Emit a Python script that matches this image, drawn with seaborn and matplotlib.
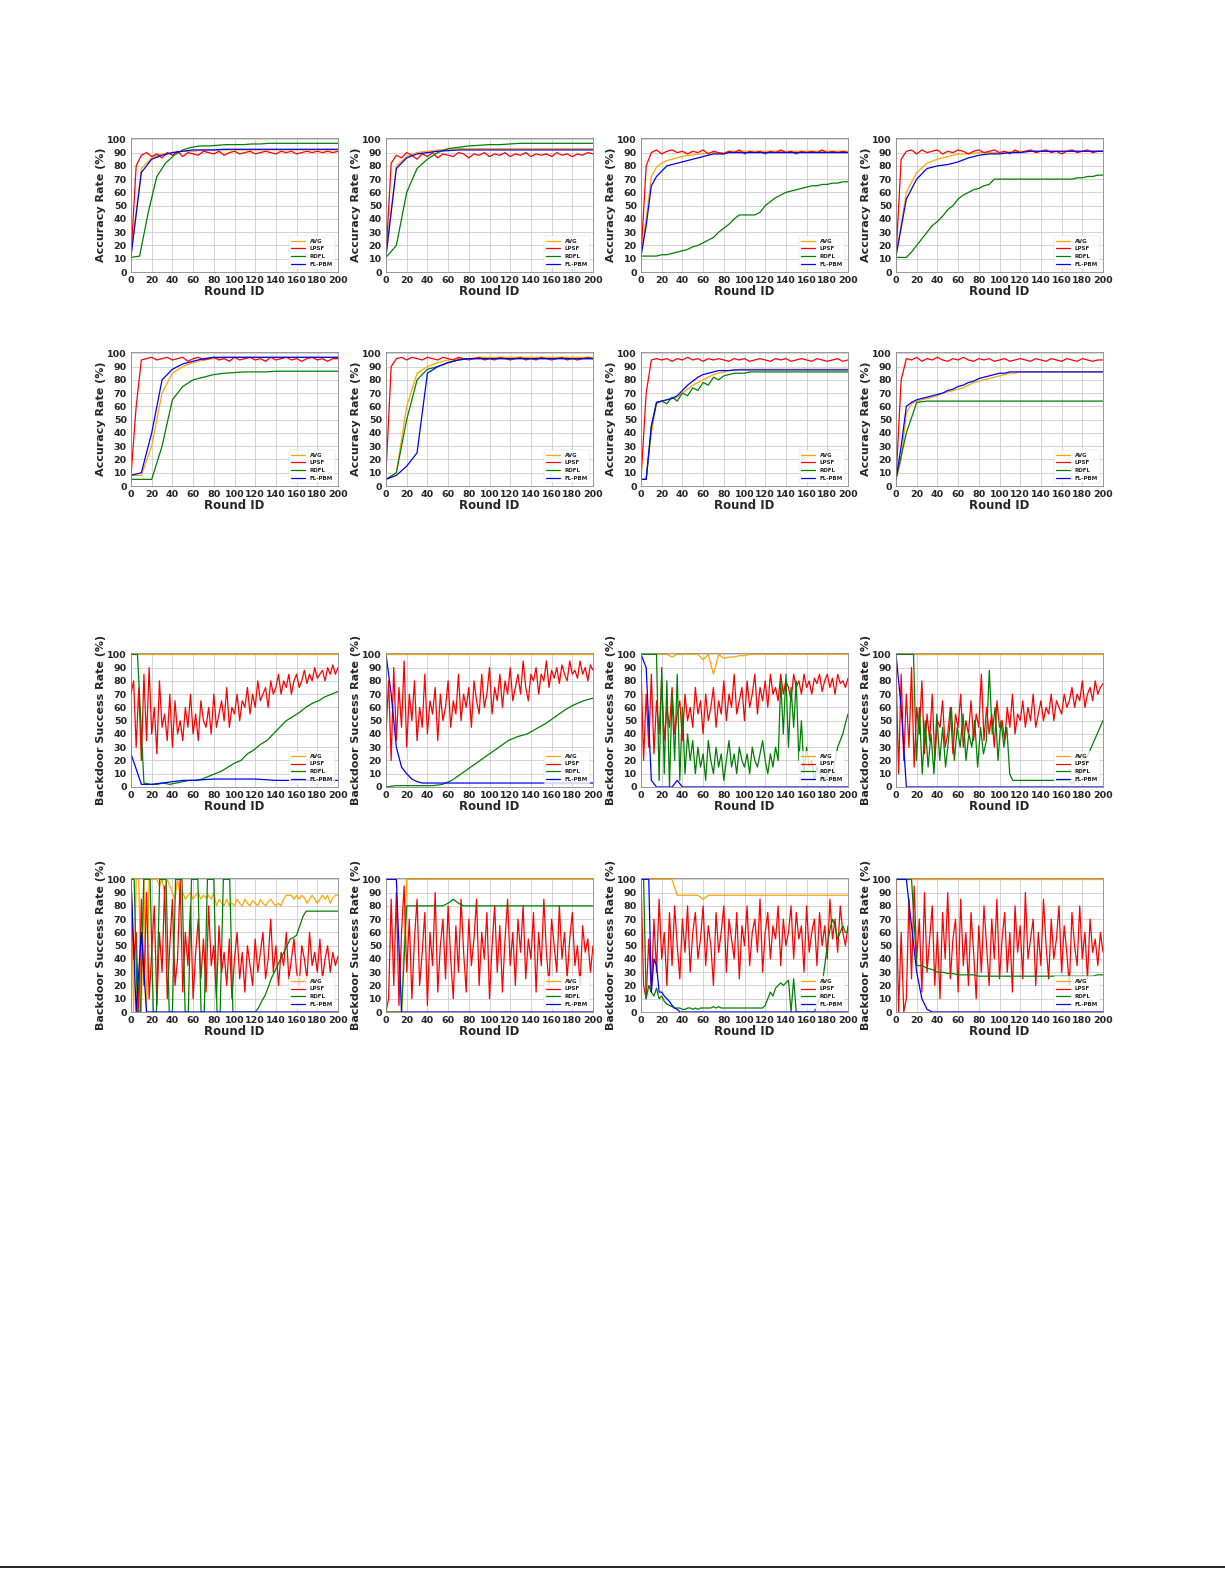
import numpy as np
import pandas as pd
import matplotlib
matplotlib.use("Agg")
import matplotlib.pyplot as plt
import seaborn as sns
from matplotlib.lines import Line2D

sns.set_style("white")
plt.rcParams['font.family'] = ['DejaVu Sans']

methods = ["AVG", "LPSF", "RDFL", "FL-PBM"]
colors = {"AVG": "#ffa500", "LPSF": "#ff0000", "RDFL": "#008000", "FL-PBM": "#0000ff"}

# values; each list spans rounds 0..200 evenly
# ---- accuracy, row 1
a1_avg = [12, 78, 86, 89, 90, 91, 91, 92, 92, 92, 92, 92, 92, 92, 92, 92, 92, 92, 92, 92, 92]
a1_lpsf = [12, 80, 88, 90, 87, 89, 86, 90, 88, 91, 87, 90, 89, 88, 91, 90, 89, 91, 88, 90, 91, 89, 90, 91, 89, 90, 91,
           90, 89, 91, 90, 91, 89, 90, 91, 90, 91, 90, 91, 90, 91]
a1_rdfl = [11, 12, 45, 72, 82, 88, 92, 94, 95, 95, 95.5, 96, 96, 96, 96.5, 96.5, 97, 97, 97, 97, 97, 97, 97, 97, 97]
a1_pbm = [12, 75, 85, 88, 90, 91, 92, 92, 92, 92.5, 92.5, 92.5, 92.5, 92.5, 92.5, 92.5, 92.5, 92.5, 92.5, 92.5, 92.5]

a2_avg = [12, 80, 87, 90, 91, 92, 92.5, 93, 93, 93, 93, 93, 93, 93, 93, 93, 93, 93, 93, 93, 93]
a2_lpsf = [12, 82, 88, 86, 90, 88, 85, 89, 87, 90, 86, 89, 88, 87, 90, 89, 86, 89, 88, 90, 87, 89, 88, 90, 87, 89, 88,
           90, 87, 89, 88, 89, 87, 90, 88, 89, 87, 89, 88, 90, 89]
a2_rdfl = [11, 20, 60, 78, 85, 90, 93, 94, 95, 95.5, 96, 96, 96.5, 97, 97, 97, 97, 97, 97, 97, 97]
a2_pbm = [12, 78, 86, 89, 90, 91, 91.5, 92, 92, 92, 92, 92, 92, 92, 92, 92, 92, 92, 92, 92, 92]

a3_avg = [12, 40, 72, 79, 82, 84, 85, 86, 87, 88, 88, 89, 89, 90, 90, 90, 90, 91, 91, 91, 91, 91, 91, 91, 91, 91, 91,
          91, 91, 91, 91, 91, 91, 91, 91, 91, 91, 91, 91, 91, 91]
a3_lpsf = [12, 80, 90, 92, 89, 91, 92, 90, 91, 89, 91, 90, 92, 89, 91, 90, 89, 91, 90, 92, 89, 91, 90, 91, 89, 91, 90,
           92, 90, 91, 89, 91, 90, 91, 90, 92, 90, 91, 90, 91, 90]
a3_rdfl = [12, 12, 12, 12, 13, 13, 14, 15, 16, 17, 19, 20, 22, 24, 26, 30, 33, 36, 40, 43, 43, 43, 43, 45, 50, 53, 56,
           58, 60, 61, 62, 63, 64, 65, 65, 66, 66, 67, 67, 68, 68]
a3_pbm = [12, 35, 65, 72, 76, 80, 81, 82, 83, 84, 85, 86, 87, 88, 89, 89, 89, 90, 90, 90, 90, 90, 90, 90, 90, 90, 90,
          90, 90, 90, 90, 90, 90, 90, 90, 90, 90, 90, 90, 90, 90]

a4_avg = [12, 60, 75, 82, 85, 87, 89, 89, 90, 90, 90, 90.5, 91, 91, 91, 91, 91, 91, 91, 91, 91]
a4_lpsf = [12, 85, 91, 92, 89, 92, 90, 91, 92, 89, 91, 90, 92, 91, 89, 91, 92, 90, 91, 92, 90, 91, 89, 92, 90, 91, 92,
           90, 91, 92, 90, 91, 89, 91, 92, 90, 91, 92, 90, 91, 91]
a4_rdfl = [11, 11, 11, 15, 20, 25, 30, 35, 38, 42, 47, 50, 55, 58, 60, 62, 63, 65, 66, 70, 70, 70, 70, 70, 70, 70, 70,
           70, 70, 70, 70, 70, 70, 70, 70, 71, 71, 72, 72, 73, 73]
a4_pbm = [12, 55, 70, 78, 80, 81, 83, 86, 88, 89, 89, 90, 90, 91, 91, 91, 91, 91, 91, 91, 91]

# ---- accuracy, row 2
b1_avg = [8, 8, 30, 70, 85, 90, 93, 95, 96, 97, 97, 97, 97, 97, 97, 97, 97, 97, 97, 97, 97]
b1_lpsf = [8, 60, 95, 96, 97, 95, 96, 97, 95, 96, 97, 94, 96, 97, 95, 96, 97, 95, 96, 94, 97, 95, 96, 97, 95, 96, 94,
           97, 95, 96, 97, 95, 96, 94, 96, 97, 95, 96, 94, 96, 96]
b1_rdfl = [5, 5, 5, 30, 65, 75, 80, 82, 84, 85, 85.5, 86, 86, 86, 86.5, 86.5, 86.5, 86.5, 86.5, 86.5, 86.5]
b1_pbm = [8, 10, 40, 80, 88, 92, 94, 96, 97, 97, 97, 97, 97, 97, 97, 97, 97, 97, 97, 97, 97]

b2_avg = [5, 10, 60, 85, 90, 93, 95, 96, 96, 97, 97, 97, 97, 97, 97, 97, 97, 97, 97, 97, 97]
b2_lpsf = [10, 90, 96, 97, 95, 97, 96, 95, 97, 96, 95, 97, 96, 95, 97, 96, 95, 96, 97, 95, 96, 95, 97, 96, 95, 96, 97,
           95, 96, 95, 97, 96, 95, 96, 97, 95, 96, 95, 96, 97, 96]
b2_rdfl = [5, 10, 50, 80, 88, 90, 93, 95, 96, 96, 96, 96, 96, 96, 96, 96, 96, 96, 96, 96, 96]
b2_pbm = [5, 8, 15, 25, 85, 90, 93, 95, 96, 96, 96, 96, 96, 96, 96, 96, 96, 96, 96, 96, 96]

b3_avg = [5, 5, 40, 62, 64, 65, 66, 67, 70, 73, 76, 78, 80, 82, 84, 85, 86, 87, 87, 88, 88, 88, 88, 88, 88, 88, 88,
          88, 88, 88, 88, 88, 88, 88, 88, 88, 88, 88, 88, 88, 88]
b3_lpsf = [5, 70, 95, 96, 95, 96, 94, 96, 95, 97, 95, 96, 94, 96, 95, 96, 95, 94, 96, 95, 96, 94, 95, 96, 95, 94, 96,
           95, 96, 94, 95, 96, 95, 94, 96, 95, 94, 95, 96, 94, 95]
b3_rdfl = [5, 5, 45, 63, 64, 62, 67, 64, 70, 68, 74, 72, 78, 76, 82, 80, 83, 84, 85, 85, 85, 86, 86, 86, 86, 86, 86,
           86, 86, 86, 86, 86, 86, 86, 86, 86, 86, 86, 86, 86, 86]
b3_pbm = [5, 5, 45, 63, 64, 65, 66, 68, 72, 76, 79, 82, 84, 85, 86, 87, 87, 87, 87.5, 87.5, 87.5, 87.5, 87.5, 87.5,
          87.5, 87.5, 87.5, 87.5, 87.5, 87.5, 87.5, 87.5, 87.5, 87.5, 87.5, 87.5, 87.5, 87.5, 87.5, 87.5, 87.5]

b4_avg = [5, 20, 55, 62, 64, 65, 66, 67, 68, 70, 71, 72, 73, 74, 76, 78, 79, 80, 81, 82, 83, 84, 85, 85, 86, 86, 86,
          86, 86, 86, 86, 86, 86, 86, 86, 86, 86, 86, 86, 86, 86]
b4_lpsf = [5, 80, 96, 95, 97, 94, 96, 95, 97, 95, 94, 96, 95, 97, 95, 94, 96, 95, 96, 94, 95, 96, 94, 95, 96, 95, 94,
           96, 95, 94, 96, 95, 94, 96, 95, 94, 96, 95, 94, 95, 95]
b4_rdfl = [5, 40, 63, 64, 64, 64, 64, 64, 64, 64, 64, 64, 64, 64, 64, 64, 64, 64, 64, 64, 64]
b4_pbm = [5, 30, 60, 63, 65, 66, 67, 68, 69, 70, 72, 73, 75, 76, 78, 79, 81, 82, 83, 84, 85, 85, 86, 86, 86, 86, 86,
          86, 86, 86, 86, 86, 86, 86, 86, 86, 86, 86, 86, 86, 86]

# ---- backdoor success, row 3
c1_avg = [100, 100, 100, 100, 100, 100, 100, 100, 100, 100, 100, 100, 100, 100, 100, 100, 100, 100, 100, 100, 100]
c1_lpsf = [70, 80, 30, 75, 20, 85, 35, 90, 40, 60, 25, 80, 45, 55, 35, 70, 30, 65, 40, 50, 35, 60, 45, 70, 40, 55, 35,
           65, 50, 45, 60, 40, 70, 45, 55, 65, 50, 75, 45, 60, 55, 70, 50, 65, 60, 75, 55, 70, 60, 80, 65, 70, 75, 60,
           80, 70, 75, 85, 70, 80, 75, 85, 70, 80, 85, 75, 80, 88, 78, 85, 80, 90, 82, 85, 88, 80, 90, 85, 92, 85, 90]
c1_rdfl = [100, 100, 3, 2, 2, 3, 2, 3, 4, 5, 5, 6, 8, 10, 12, 15, 18, 20, 25, 28, 32, 35, 40, 45, 50, 53, 56, 60, 63,
           65, 68, 70, 72]
c1_pbm = [25, 2, 2, 3, 4, 5, 5, 5.5, 6, 6, 6, 6, 6, 5.5, 5, 5, 5, 5, 5, 5, 5]

c2_avg = [100, 100, 100, 100, 100, 100, 100, 100, 100, 100, 100, 100, 100, 100, 100, 100, 100, 100, 100, 100, 100]
c2_lpsf = [40, 80, 20, 90, 35, 75, 45, 95, 30, 70, 50, 80, 35, 60, 45, 85, 40, 65, 55, 75, 35, 70, 50, 60, 80, 45, 65,
           55, 85, 50, 70, 60, 75, 45, 80, 65, 55, 85, 60, 70, 90, 55, 75, 65, 85, 60, 80, 70, 90, 65, 75, 85, 70, 95,
           75, 65, 85, 80, 90, 70, 85, 80, 95, 75, 88, 82, 90, 78, 92, 85, 80, 95, 85, 88, 82, 95, 85, 90, 80, 92, 88]
c2_rdfl = [0, 1, 1, 1, 1, 1, 2, 5, 10, 15, 20, 25, 30, 35, 38, 40, 44, 48, 53, 58, 62, 65, 67]
c2_pbm = [100, 70, 30, 15, 10, 6, 4, 3, 3, 3, 3, 3, 3, 3, 3, 3, 3, 3, 3, 3, 3, 3, 3, 3, 3, 3, 3, 3, 3, 3, 3, 3, 3, 3,
          3, 3, 3, 3, 3, 3, 3]

c3_avg = [100, 100, 100, 100, 100, 100, 98, 100, 100, 100, 100, 100, 96, 100, 85, 100, 97, 98, 98, 99, 99, 100, 100,
          100, 100, 100, 100, 100, 100, 100, 100, 100, 100, 100, 100, 100, 100, 100, 100, 100, 100]
c3_lpsf = [90, 20, 70, 30, 85, 25, 65, 40, 80, 35, 60, 45, 75, 40, 55, 65, 35, 70, 50, 60, 45, 75, 55, 65, 40, 70, 50,
           60, 75, 45, 65, 55, 80, 50, 70, 60, 85, 55, 65, 75, 50, 80, 60, 70, 85, 55, 75, 65, 80, 60, 85, 70, 75, 65,
           85, 70, 80, 75, 65, 85, 75, 80, 70, 85, 75, 80, 70, 82, 78, 85, 72, 80, 85, 75, 82, 70, 85, 78, 80, 75, 82]
c3_rdfl = [100, 100, 100, 100, 100, 100, 100, 5, 90, 10, 80, 0, 70, 20, 85, 5, 60, 10, 40, 20, 35, 10, 30, 15, 25, 5,
           35, 20, 10, 30, 15, 25, 5, 20, 35, 15, 25, 10, 30, 20, 15, 25, 10, 30, 20, 15, 25, 35, 20, 10, 25, 15, 30,
           20, 80, 40, 85, 30, 75, 45, 80, 20, 50, 10, 30, 15, 20, 5, 15, 10, 8, 5, 10, 5, 10, 20, 30, 35, 40, 48, 55]
c3_pbm = [100, 90, 5, 0, 0, 0, 0, 5, 0, 0, 0, 0, 0, 0, 0, 0, 0, 0, 0, 0, 0, 0, 0, 0, 0, 0, 0, 0, 0, 0, 0, 0, 0, 0, 0,
          0, 0, 0, 0, 0, 0]

c4_avg = [100, 100, 100, 100, 100, 100, 100, 100, 100, 100, 100, 100, 100, 100, 100, 100, 100, 100, 100, 100, 100]
c4_lpsf = [90, 10, 85, 20, 70, 30, 90, 15, 60, 40, 80, 25, 55, 35, 70, 20, 50, 45, 65, 30, 40, 60, 25, 55, 45, 70, 30,
           50, 40, 65, 35, 55, 45, 85, 35, 60, 40, 55, 30, 65, 45, 50, 35, 60, 45, 70, 40, 55, 50, 65, 45, 60, 50, 70,
           45, 55, 65, 50, 60, 55, 70, 50, 65, 60, 55, 70, 60, 65, 75, 60, 70, 65, 80, 60, 70, 75, 65, 80, 70, 75, 78]
c4_rdfl = [100, 100, 100, 100, 100, 100, 100, 20, 60, 10, 50, 15, 40, 10, 55, 20, 45, 15, 35, 60, 20, 45, 30, 55, 20,
           40, 30, 50, 15, 45, 25, 35, 88, 40, 60, 20, 50, 30, 45, 10, 5, 5, 5, 5, 5, 5, 5, 5, 5, 5, 5, 5, 5, 5, 5, 5,
           5, 5, 5, 5, 3, 3, 5, 10, 15, 20, 25, 30, 35, 40, 45, 50]
c4_pbm = [100, 60, 0, 0, 0, 0, 0, 0, 0, 0, 0, 0, 0, 0, 0, 0, 0, 0, 0, 0, 0, 0, 0, 0, 0, 0, 0, 0, 0, 0, 0, 0, 0, 0, 0,
          0, 0, 0, 0, 0, 0]

# ---- backdoor success, row 4
d1_avg = [100, 0, 100, 100, 0, 100, 0, 100, 100, 100, 100, 95, 100, 90, 100, 95, 90, 85, 100, 88, 90, 85, 88, 90, 85,
          88, 90, 85, 88, 86, 88, 85, 90, 80, 85, 82, 80, 85, 80, 82, 80, 85, 82, 80, 85, 82, 80, 84, 82, 80, 85, 82,
          80, 83, 85, 82, 80, 82, 80, 85, 88, 88, 88, 85, 88, 85, 88, 86, 82, 85, 88, 85, 82, 85, 88, 85, 88, 82, 86,
          88, 88]
d1_lpsf = [100, 40, 60, 0, 85, 20, 90, 10, 45, 80, 5, 60, 30, 95, 10, 50, 85, 20, 40, 100, 15, 60, 35, 80, 10, 45, 70,
           25, 55, 15, 80, 35, 50, 10, 65, 30, 45, 20, 55, 10, 40, 60, 25, 45, 15, 50, 35, 20, 55, 30, 45, 60, 25, 40,
           70, 30, 50, 20, 45, 35, 60, 25, 40, 55, 30, 20, 50, 40, 25, 60, 35, 45, 30, 55, 25, 40, 50, 30, 45, 35, 42]
d1_rdfl = [100, 100, 0, 0, 100, 100, 100, 0, 0, 100, 100, 100, 0, 0, 100, 100, 100, 0, 0, 100, 100, 100, 0, 0, 100, 100,
           100, 0, 0, 100, 100, 100, 0, 0, 0, 0, 0, 0, 0, 0, 3, 8, 12, 18, 25, 30, 35, 40, 45, 50, 55, 56, 58, 65, 72,
           76, 76, 76, 76, 76, 76, 76, 76, 76, 76, 76]
d1_pbm = [100, 0, 60, 0, 0, 0, 0, 0, 0, 0, 0, 0, 0, 0, 0, 0, 0, 0, 0, 0, 0, 0, 0, 0, 0, 0, 0, 0, 0, 0, 0, 0, 0, 0, 0,
          0, 0, 0, 0, 0, 0]

d2_avg = [0, 0, 0, 0, 100, 100, 100, 100, 100, 100, 100, 100, 100, 100, 100, 100, 100, 100, 100, 100, 100, 100, 100,
          100, 100, 100, 100, 100, 100, 100, 100, 100, 100, 100, 100, 100, 100, 100, 100, 100, 100]
d2_lpsf = [0, 10, 85, 20, 90, 5, 60, 95, 30, 70, 10, 55, 85, 20, 45, 75, 5, 60, 35, 90, 15, 50, 70, 25, 80, 40, 10, 65,
           30, 85, 45, 15, 70, 35, 55, 85, 20, 60, 40, 75, 10, 50, 80, 30, 65, 15, 55, 85, 35, 60, 20, 70, 45, 80, 25,
           55, 40, 75, 15, 60, 35, 85, 45, 20, 70, 50, 30, 80, 40, 60, 25, 55, 75, 35, 50, 20, 65, 45, 55, 30, 50]
d2_rdfl = [0, 0, 0, 0, 80, 80, 80, 80, 80, 80, 80, 80, 82, 85, 82, 80, 80, 80, 80, 80, 80, 80, 80, 80, 80, 80, 80, 80,
           80, 80, 80, 80, 80, 80, 80, 80, 80, 80, 80, 80, 80]
d2_pbm = [100, 100, 100, 0, 0, 0, 0, 0, 0, 0, 0, 0, 0, 0, 0, 0, 0, 0, 0, 0, 0, 0, 0, 0, 0, 0, 0, 0, 0, 0, 0, 0, 0, 0,
          0, 0, 0, 0, 0, 0, 0]

d3_avg = [100, 100, 100, 100, 100, 100, 100, 88, 88, 88, 88, 88, 85, 88, 88, 88, 88, 88, 88, 88, 88, 88, 88, 88, 88,
          88, 88, 88, 88, 88, 88, 88, 88, 88, 88, 88, 88, 88, 88, 88, 88]
d3_lpsf = [100, 20, 10, 55, 15, 70, 30, 85, 40, 60, 20, 75, 35, 80, 50, 25, 70, 45, 80, 30, 60, 75, 40, 55, 80, 35, 65,
           50, 20, 75, 45, 60, 80, 30, 70, 55, 40, 75, 25, 65, 50, 80, 35, 60, 70, 45, 85, 30, 60, 75, 40, 65, 55, 80,
           35, 70, 50, 60, 80, 40, 75, 55, 65, 30, 80, 45, 60, 70, 35, 75, 50, 65, 40, 85, 55, 70, 45, 80, 60, 50, 65]
d3_rdfl = [100, 100, 10, 20, 15, 12, 18, 10, 12, 8, 6, 5, 4, 3, 3, 3, 2, 2, 3, 3, 2, 3, 2, 3, 3, 3, 3, 3, 4, 3, 4, 3,
           3, 3, 3, 3, 3, 3, 3, 3, 3, 3, 3, 3, 3, 3, 3, 3, 5, 10, 15, 12, 18, 20, 22, 20, 22, 24, 0, 25, 0, 0, 0, 0,
           0, 0, 0, 0, 5, 10, 20, 35, 50, 62, 70, 65, 55, 60, 65, 60, 60]
d3_pbm = [100, 100, 100, 100, 15, 40, 35, 15, 15, 12, 10, 8, 5, 3, 2, 0, 0, 0, 0, 0, 0, 0, 0, 0, 0, 0, 0, 0, 0, 0, 0, 0,
          0, 0, 0, 0, 0, 0, 0, 0, 0, 0, 0, 0, 0, 0, 0, 0, 0, 0, 0, 0, 0, 0, 0, 0, 0, 0, 0, 0, 0, 0, 0, 0, 0, 0, 0, 0,
          0, 0, 0, 0, 0, 0, 0, 0, 0, 0, 0, 0, 0]

d4_avg = [100, 100, 100, 100, 100, 100, 100, 100, 100, 100, 100, 100, 100, 100, 100, 100, 100, 100, 100, 100, 100]
d4_lpsf = [100, 0, 60, 0, 10, 85, 25, 95, 40, 70, 15, 90, 30, 55, 80, 20, 60, 10, 75, 40, 90, 25, 55, 70, 15, 85, 35,
           60, 20, 75, 45, 10, 65, 30, 80, 50, 20, 70, 40, 85, 25, 55, 75, 30, 60, 15, 80, 45, 65, 25, 90, 40, 55, 70,
           20, 60, 35, 85, 50, 25, 70, 40, 55, 80, 30, 65, 45, 20, 75, 50, 35, 80, 40, 60, 25, 70, 45, 55, 35, 60, 45]
d4_rdfl = [100, 100, 100, 100, 35, 35, 33, 32, 30, 30, 29, 29, 28, 28, 28, 28, 27, 27, 27, 27, 27, 27, 27, 27, 27, 27,
           27, 27, 27, 27, 27, 27, 27, 27, 27, 27, 27, 27, 27, 28, 28]
d4_pbm = [100, 100, 100, 65, 30, 10, 2, 0, 0, 0, 0, 0, 0, 0, 0, 0, 0, 0, 0, 0, 0, 0, 0, 0, 0, 0, 0, 0, 0, 0, 0, 0, 0,
          0, 0, 0, 0, 0, 0, 0, 0]

panels = [
    [(a1_avg, a1_lpsf, a1_rdfl, a1_pbm), (a2_avg, a2_lpsf, a2_rdfl, a2_pbm),
     (a3_avg, a3_lpsf, a3_rdfl, a3_pbm), (a4_avg, a4_lpsf, a4_rdfl, a4_pbm)],
    [(b1_avg, b1_lpsf, b1_rdfl, b1_pbm), (b2_avg, b2_lpsf, b2_rdfl, b2_pbm),
     (b3_avg, b3_lpsf, b3_rdfl, b3_pbm), (b4_avg, b4_lpsf, b4_rdfl, b4_pbm)],
    [(c1_avg, c1_lpsf, c1_rdfl, c1_pbm), (c2_avg, c2_lpsf, c2_rdfl, c2_pbm),
     (c3_avg, c3_lpsf, c3_rdfl, c3_pbm), (c4_avg, c4_lpsf, c4_rdfl, c4_pbm)],
    [(d1_avg, d1_lpsf, d1_rdfl, d1_pbm), (d2_avg, d2_lpsf, d2_rdfl, d2_pbm),
     (d3_avg, d3_lpsf, d3_rdfl, d3_pbm), (d4_avg, d4_lpsf, d4_rdfl, d4_pbm)],
]
ylabels = ["Accuracy Rate (%)", "Accuracy Rate (%)", "Backdoor Success Rate (%)", "Backdoor Success Rate (%)"]

W, H = 1225, 1585
fig = plt.figure(figsize=(W / 100, H / 100), dpi=100)
col_left = [131, 386, 641, 896]
row_top = [138, 352, 653, 878]
aw, ah = 207, 134

for r in range(4):
    for c in range(4):
        ax = fig.add_axes([col_left[c] / W, 1 - (row_top[r] + ah) / H, aw / W, ah / H])
        frames = []
        for name, vals in zip(methods, panels[r][c]):
            frames.append(pd.DataFrame({"round": np.linspace(0, 200, len(vals)), "value": vals, "method": name}))
        df = pd.concat(frames)
        sns.lineplot(data=df, x="round", y="value", hue="method", palette=colors, hue_order=methods,
                     linewidth=0.9, ax=ax, estimator=None, sort=False)
        ax.set_xlim(0, 200)
        ax.set_ylim(0, 101)
        ax.set_xticks(range(0, 201, 20))
        ax.set_yticks(range(0, 101, 10))
        ax.tick_params(labelsize=6.8, length=2, pad=1)
        for t in ax.get_xticklabels() + ax.get_yticklabels():
            t.set_fontweight("bold")
        ax.grid(True, color="#cccccc", linewidth=0.6)
        for s in ax.spines.values():
            s.set_color("#888888")
            s.set_linewidth(0.6)
        ax.set_xlabel("Round ID", fontsize=8.5, fontweight="bold", labelpad=0)
        ax.set_ylabel(ylabels[r], fontsize=8, fontweight="bold", labelpad=1)
        leg = ax.legend(loc="lower right", frameon=True, handlelength=2.5, borderpad=0.4,
                        labelspacing=0.5, prop={"size": 4, "weight": "bold"})
        leg.get_frame().set_linewidth(0.3)

fig.add_artist(Line2D([0, 1], [1 - 1567 / H, 1 - 1567 / H], color="black", linewidth=1.2))
fig.savefig("out.png", dpi=100, facecolor="white")
